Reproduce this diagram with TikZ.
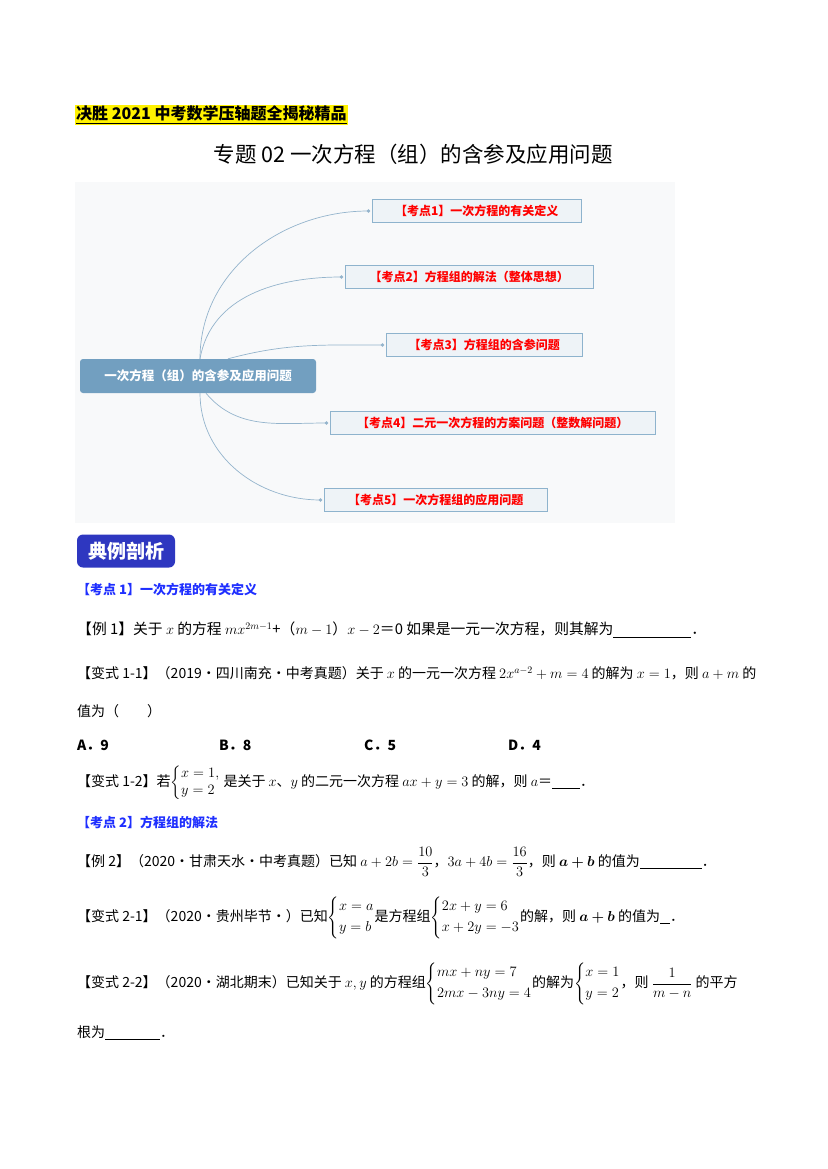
\documentclass[tikz,border=0pt]{standalone}
\usepackage{amsmath,amssymb,bm}
\usepackage{fontspec}
\setmainfont{Liberation Serif}
\newfontfamily\cjk{Noto Sans CJK SC}
\usetikzlibrary{positioning}
\definecolor{mapBg}{HTML}{F8F9FA}
\definecolor{rootFill}{HTML}{729FC0}
\definecolor{topicFill}{HTML}{EEF3F7}
\definecolor{topicLine}{HTML}{8EB3CD}
\definecolor{branchLine}{HTML}{94B4CC}
\definecolor{badgeBlue}{HTML}{2E37C0}
\definecolor{pointBlue}{HTML}{1F2FFF}
\newcommand{\eqsys}[2]{\left\{\begin{array}{@{}l@{}}#1\\[4pt] #2\end{array}\right.}
\tikzset{
    topicNode/.style = {draw=topicLine,fill=topicFill,text=red,anchor=west,minimum height=23pt,font=\cjk\bfseries\fontsize{12}{14}\selectfont,inner xsep=6pt},
    rootNode/.style = {fill=rootFill,text=white,rounded corners=3pt,minimum width=236pt,minimum height=34pt,font=\cjk\bfseries\fontsize{12.5}{15}\selectfont},
    branch/.style = {draw=branchLine,line width=0.7pt},
    dotNode/.style = {circle,fill=branchLine,inner sep=1.3pt},
    lineText/.style = {anchor=west,inner sep=0pt,font=\cjk\fontsize{14}{17}\selectfont},
    pointText/.style = {lineText,text=pointBlue,font=\cjk\bfseries\fontsize{13}{16}\selectfont}
}
\begin{document}
\begin{tikzpicture}[x=1pt,y=-1pt]
    \useasboundingbox (0,0) rectangle (827,1169);
    % header and title
    \node[anchor=west,inner sep=1pt,fill=yellow,font=\cjk\bfseries\fontsize{16}{18}\selectfont] (head) at (75,115) {\underline{决胜 2021 中考数学压轴题全揭秘精品}};
    \node[font=\cjk\fontsize{21.5}{25}\selectfont] (title) at (413,154) {专题\ 02 一次方程（组）的含参及应用问题};
    % mind map
    \fill[mapBg] (75,182) rectangle (675,523);
    \node[rootNode] (root) at (198,376) {一次方程（组）的含参及应用问题};
    \node[topicNode,minimum width=209pt] (t1) at (372,211) {【考点1】一次方程的有关定义};
    \node[topicNode,minimum width=248pt] (t2) at (345,277) {【考点2】方程组的解法（整体思想）};
    \node[topicNode,minimum width=196pt] (t3) at (386,345) {【考点3】方程组的含参问题};
    \node[topicNode,minimum width=325pt] (t4) at (330,423) {【考点4】二元一次方程的方案问题（整数解问题）};
    \node[topicNode,minimum width=223pt] (t5) at (324,500) {【考点5】一次方程组的应用问题};
    \foreach \t in {1,...,5}
        \node[dotNode,left=1.5pt of t\t.west] (d\t) {};
    \draw[branch] ([xshift=2pt]root.north) to[out=90,in=180] (d1.center);
    \draw[branch] ([xshift=2pt]root.north) to[out=80,in=180] (d2.center);
    \draw[branch] ([xshift=30pt]root.north) to[out=15,in=180] (d3.center);
    \draw[branch] ([xshift=8pt]root.south) to[out=-50,in=180] (d4.center);
    \draw[branch] ([xshift=2pt]root.south) to[out=-90,in=180] (d5.center);
    % examples
    \node[fill=badgeBlue,text=white,rounded corners=6pt,minimum width=98pt,minimum height=33pt,font=\cjk\bfseries\fontsize{19}{22}\selectfont] (badge) at (126,551) {典例剖析};
    \node[pointText] (p1) at (77,590) {【考点 1】一次方程的有关定义};
    \node[lineText,font=\cjk\fontsize{14.8}{17}\selectfont] (e1) at (77,630) {【例 1】关于 $x$ 的方程 $mx^{2m-1}$+（$m-1$）$x-2$＝0 如果是一元一次方程，则其解为\underline{\hspace{78pt}}．};
    \node[lineText] (v11) at (77,673) {【变式 1-1】（2019·四川南充·中考真题）关于 $x$ 的一元一次方程 $2x^{a-2}+m=4$ 的解为 $x=1$，则 $a+m$ 的};
    \node[lineText] (v11b) at (77,711) {值为（\qquad）};
    \foreach \lab/\val/\xx in {A/9/77,B/8/219,C/5/364,D/4/508}
        \node[lineText,font=\cjk\bfseries\fontsize{14}{17}\selectfont] (opt\lab) at (\xx,745) {\lab．\val};
    \node[lineText] (v12) at (77,783) {【变式 1-2】若$\left\{\begin{array}{@{}l@{}}x=1,\\ y=2\end{array}\right.$ 是关于 $x$、$y$ 的二元一次方程 $ax+y=3$ 的解，则 $a$＝\underline{\hspace{28pt}}．};
    \node[pointText] (p2) at (77,822) {【考点 2】方程组的解法};
    \node[lineText] (e2) at (77,862) {【例 2】（2020·甘肃天水·中考真题）已知 $a+2b=\dfrac{10}{3}$，$3a+4b=\dfrac{16}{3}$，则 $\bm{a+b}$ 的值为\underline{\hspace{62pt}}．};
    \node[lineText] (v21) at (77,918) {【变式 2-1】（2020·贵州毕节·）已知$\eqsys{x=a}{y=b}$是方程组$\eqsys{2x+y=6}{x+2y=-3}$的解，则 $\bm{a+b}$ 的值为\underline{\hspace{10pt}}．};
    \node[lineText] (v22) at (77,984) {【变式 2-2】（2020·湖北期末）已知关于 $x,y$ 的方程组$\eqsys{mx+ny=7}{2mx-3ny=4}$的解为$\eqsys{x=1}{y=2}$，则 $\dfrac{1}{m-n}$ 的平方};
    \node[lineText] (v22b) at (77,1033) {根为\underline{\hspace{55pt}}．};
\end{tikzpicture}
\end{document}
